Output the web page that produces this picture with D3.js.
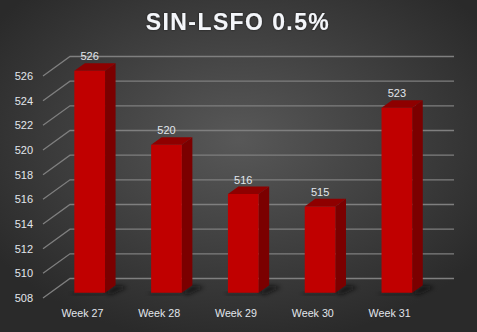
<!DOCTYPE html>
<html>
<head>
<meta charset="utf-8">
<script src="https://cdn.jsdelivr.net/npm/d3@7"></script>
<style>
html,body{margin:0;padding:0;background:#2b2b2b;}
svg{display:block;}
</style>
</head>
<body>
<svg id="chart" width="477" height="332"></svg>
<script>
const title = "SIN-LSFO 0.5%";
const categories = ["Week 27", "Week 28", "Week 29", "Week 30", "Week 31"];
const values = [526, 520, 516, 515, 523];
const yTicks = [508, 510, 512, 514, 516, 518, 520, 522, 524, 526];

const W = 477, H = 332;
const svg = d3.select("#chart");
const defs = svg.append("defs");

const bg = defs.append("radialGradient").attr("id", "bg")
  .attr("cx", "50%").attr("cy", "42%").attr("r", "62%");
bg.append("stop").attr("offset", "0%").attr("stop-color", "#585858");
bg.append("stop").attr("offset", "100%").attr("stop-color", "#2a2a2a");

const blur = defs.append("filter").attr("id", "blur")
  .attr("x", "-50%").attr("y", "-50%").attr("width", "200%").attr("height", "200%");
blur.append("feGaussianBlur").attr("stdDeviation", 2);

const glow = defs.append("filter").attr("id", "glow")
  .attr("x", "-10%").attr("y", "-30%").attr("width", "120%").attr("height", "160%");
glow.append("feDropShadow").attr("dx", 0).attr("dy", 0).attr("stdDeviation", 1)
  .attr("flood-color", "#000").attr("flood-opacity", 0.6);

svg.append("rect").attr("width", W).attr("height", H).attr("fill", "url(#bg)");

// front plane geometry
const plotLeft = 43, plotRight = 427;
const DX = 27, DY = -19.5; // full depth offset
const x = d3.scaleBand().domain(categories).range([plotLeft + 1, plotRight + 1]).paddingInner(0.6).paddingOuter(0.3);
const y = d3.scaleLinear().domain([508, 526]).range([298, 76]);
const P = (px, v, d) => [px + DX * d, y(v) + DY * d];

// gridlines: side wall diagonals + back wall lines
const grid = svg.append("g").attr("stroke", "#7f7f7f").attr("stroke-width", 1.3).attr("fill", "none");
yTicks.forEach(t => {
  const a = P(plotLeft, t, 0), b = P(plotLeft, t, 1), c = P(plotRight, t, 1);
  grid.append("path").attr("d", `M${a[0]},${a[1]}L${b[0]},${b[1]}L${c[0]},${c[1]}`);
});

// y tick labels
svg.append("g").selectAll("text").data(yTicks).join("text")
  .attr("x", 33).attr("y", d => y(d)).attr("dy", "0.35em")
  .attr("text-anchor", "end")
  .attr("font-family", "Liberation Sans, Arial, sans-serif").attr("font-size", 11)
  .attr("fill", "#e2e6ec").text(d => d);

// bars
const d0 = 0.27, d1 = 0.66;
const bars = svg.append("g");
categories.forEach((c, i) => {
  const v = values[i];
  const xl = x(c), xr = x(c) + x.bandwidth();
  const base = 508;
  const fl_t = P(xl, v, d0), fr_t = P(xr, v, d0), fr_b = P(xr, base, d0), fl_b = P(xl, base, d0);
  const bl_t = P(xl, v, d1), br_t = P(xr, v, d1), br_b = P(xr, base, d1);
  // shadow
  bars.append("path")
    .attr("d", `M${fr_b[0]},${fr_b[1]}L${br_b[0]},${br_b[1]}L${br_b[0] + 12},${br_b[1] + 2}L${fr_b[0] + 6},${fr_b[1] + 2}Z`)
    .attr("fill", "#111").attr("opacity", 0.75).attr("filter", "url(#blur)");
  bars.append("path")
    .attr("d", `M${fl_b[0] - 2},${fl_b[1]}L${fr_b[0]},${fr_b[1]}L${fr_b[0]},${fr_b[1] + 2}L${fl_b[0] - 2},${fl_b[1] + 2}Z`)
    .attr("fill", "#151515").attr("opacity", 0.5).attr("filter", "url(#blur)");
  // side face
  bars.append("path")
    .attr("d", `M${fr_t[0]},${fr_t[1]}L${br_t[0]},${br_t[1]}L${br_b[0]},${br_b[1]}L${fr_b[0]},${fr_b[1]}Z`)
    .attr("fill", "#7b0000");
  // top face
  bars.append("path")
    .attr("d", `M${fl_t[0]},${fl_t[1]}L${fr_t[0]},${fr_t[1]}L${br_t[0]},${br_t[1]}L${bl_t[0]},${bl_t[1]}Z`)
    .attr("fill", "#8e0000");
  // front face
  bars.append("path")
    .attr("d", `M${fl_t[0]},${fl_t[1]}L${fr_t[0]},${fr_t[1]}L${fr_b[0]},${fr_b[1]}L${fl_b[0]},${fl_b[1]}Z`)
    .attr("fill", "#c00000");
  // value label
  bars.append("text")
    .attr("x", (fl_t[0] + fr_t[0]) / 2).attr("y", bl_t[1] - 6.5).attr("dy", "0.35em")
    .attr("text-anchor", "middle")
    .attr("font-family", "Liberation Sans, Arial, sans-serif").attr("font-size", 11)
    .attr("fill", "#e2e6ec").text(v);
});

// category labels
svg.append("g").selectAll("text").data(categories).join("text")
  .attr("x", d => x(d) + x.bandwidth() / 2).attr("y", 313).attr("dy", "0.35em")
  .attr("text-anchor", "middle")
  .attr("font-family", "Liberation Sans, Arial, sans-serif").attr("font-size", 10.7)
  .attr("fill", "#e2e6ec").text(d => d);

// title
svg.append("text")
  .attr("x", 238).attr("y", 30)
  .attr("text-anchor", "middle")
  .attr("font-family", "Liberation Sans, Arial, sans-serif").attr("font-weight", "bold")
  .attr("font-size", 23).attr("letter-spacing", 1.4)
  .attr("fill", "#f4f6fa").attr("filter", "url(#glow)")
  .text(title);
</script>
</body>
</html>
